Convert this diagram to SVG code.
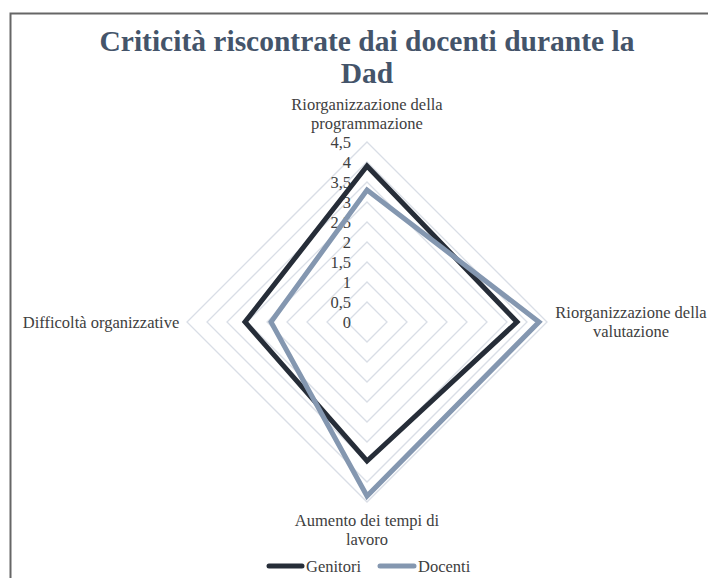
<svg xmlns="http://www.w3.org/2000/svg" width="708" height="578" viewBox="0 0 708 578">
<style>
.t{font-family:"Liberation Serif","Times New Roman",serif;font-size:29.5px;font-weight:bold;fill:#44546A;text-anchor:middle}
.l{font-family:"Liberation Serif","Times New Roman",serif;font-size:16.5px;fill:#404040}
.tk{font-family:"Liberation Serif","Times New Roman",serif;font-size:16.5px;fill:#404040;text-anchor:end}
.g{fill:none;stroke:#D9DEE6;stroke-width:1.3}
.s{fill:none;stroke-width:5;stroke-linejoin:miter}
</style>
<rect width="708" height="578" fill="#fff"/>
<path d="M10.5 578 V13.5 H708" fill="none" stroke="#666" stroke-width="2"/>
<g id="title">
<text class="t" x="367" y="51">Criticità riscontrate dai docenti durante la</text>
<text class="t" x="367" y="83">Dad</text>
</g>
<g id="grid">
<path class="g" d="M367 302 L387 322 L367 342 L347 322 Z"/>
<path class="g" d="M367 282 L407 322 L367 362 L327 322 Z"/>
<path class="g" d="M367 262 L427 322 L367 382 L307 322 Z"/>
<path class="g" d="M367 242 L447 322 L367 402 L287 322 Z"/>
<path class="g" d="M367 222 L467 322 L367 422 L267 322 Z"/>
<path class="g" d="M367 202 L487 322 L367 442 L247 322 Z"/>
<path class="g" d="M367 182 L507 322 L367 462 L227 322 Z"/>
<path class="g" d="M367 162 L527 322 L367 482 L207 322 Z"/>
<path class="g" d="M367 142 L547 322 L367 502 L187 322 Z"/>
</g>
<g id="ticks">
<text class="tk" x="351" y="328">0</text>
<text class="tk" x="351" y="308">0,5</text>
<text class="tk" x="351" y="288">1</text>
<text class="tk" x="351" y="268">1,5</text>
<text class="tk" x="351" y="248">2</text>
<text class="tk" x="351" y="228">2,5</text>
<text class="tk" x="351" y="208">3</text>
<text class="tk" x="351" y="188">3,5</text>
<text class="tk" x="351" y="168">4</text>
<text class="tk" x="351" y="148">4,5</text>
</g>
<g id="axis-top">
<text class="l" x="367" y="110" text-anchor="middle">Riorganizzazione della</text>
<text class="l" x="367" y="129" text-anchor="middle">programmazione</text>
</g>
<g id="axis-right">
<text class="l" x="631" y="318" text-anchor="middle">Riorganizzazione della</text>
<text class="l" x="631" y="337" text-anchor="middle">valutazione</text>
</g>
<g id="axis-bottom">
<text class="l" x="367" y="526" text-anchor="middle">Aumento dei tempi di</text>
<text class="l" x="367" y="545" text-anchor="middle">lavoro</text>
</g>
<g id="axis-left">
<text class="l" x="101" y="328" text-anchor="middle">Difficoltà organizzative</text>
</g>
<g id="series">
<path id="genitori" class="s" stroke="#262D38" d="M367 166 L517 322 L367 461 L245 322 Z"/>
<path id="docenti" class="s" stroke="#8497B0" d="M367 190 L539 322 L367 496 L271 322 Z"/>
</g>
<g id="legend">
<line x1="269" y1="566" x2="302" y2="566" stroke="#262D38" stroke-width="5" stroke-linecap="round"/>
<text class="l" x="306" y="572">Genitori</text>
<line x1="380" y1="566" x2="414" y2="566" stroke="#8497B0" stroke-width="5" stroke-linecap="round"/>
<text class="l" x="418" y="572">Docenti</text>
</g>
</svg>
